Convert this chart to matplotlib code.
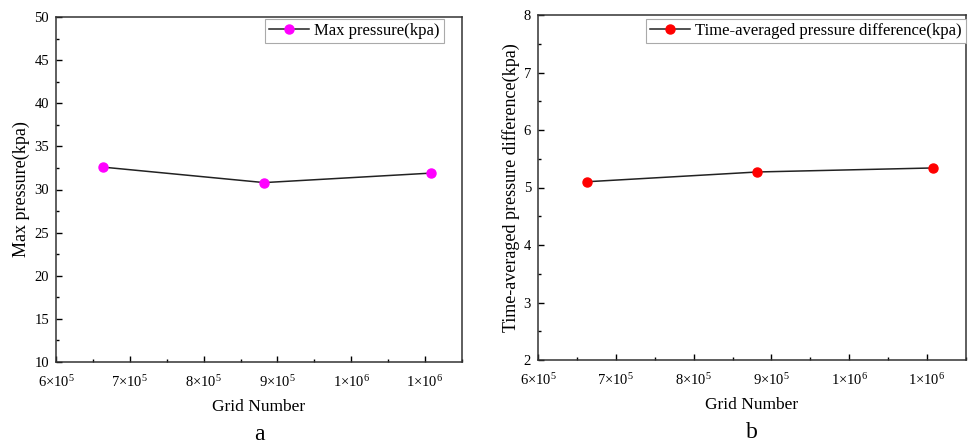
import matplotlib
matplotlib.use("Agg")
import matplotlib.pyplot as plt
import matplotlib.ticker as ticker

plt.rcParams["font.family"] = ["Liberation Serif", "DejaVu Serif"]
plt.rcParams["mathtext.fontset"] = "custom"
plt.rcParams["mathtext.rm"] = "Liberation Serif"
plt.rcParams["mathtext.it"] = "Liberation Serif"

# 网格数与结果
grid_number = [6.63e5, 8.82e5, 1.108e6]
max_pressure = [32.6, 30.8, 31.9]
avg_pressure_diff = [5.10, 5.27, 5.34]


def sci_fmt(v, pos):
    """Origin 风格: 6×10^5"""
    if v <= 0:
        return ""
    exp = len(str(int(round(v)))) - 1
    mant = int(round(v / 10 ** exp))
    return r"$%d{\times}10^{%d}$" % (mant, exp)


def draw_panel(ax, ys, color, ylabel, ylim, ystep, yminor, legend_label, tag, leg_anchor):
    ax.plot(grid_number, ys, "-", color="#222222", lw=1.1, marker="o",
            markersize=6.5, markerfacecolor=color, markeredgecolor=color,
            label=legend_label)
    ax.set_xlim(6e5, 1.15e6)
    ax.set_ylim(*ylim)
    ax.xaxis.set_major_locator(ticker.MultipleLocator(1e5))
    ax.xaxis.set_minor_locator(ticker.MultipleLocator(5e4))
    ax.xaxis.set_major_formatter(ticker.FuncFormatter(sci_fmt))
    ax.yaxis.set_major_locator(ticker.MultipleLocator(ystep))
    ax.yaxis.set_minor_locator(ticker.MultipleLocator(yminor))
    ax.tick_params(which="both", direction="in", top=False, right=False, labelsize=10.5)
    ax.tick_params(axis="x", which="major", pad=9)
    ax.tick_params(axis="y", which="major", pad=5)
    ax.tick_params(which="major", length=4, width=1)
    ax.tick_params(which="minor", length=2.5, width=1)
    for s in ax.spines.values():
        s.set_linewidth(1.1)
        s.set_color("#333333")
    ax.set_xlabel("Grid Number", fontsize=12.5, labelpad=6)
    ax.set_ylabel(ylabel, fontsize=13, labelpad=3)
    leg = ax.legend(loc="upper right", bbox_to_anchor=leg_anchor, fontsize=12,
                    fancybox=False, framealpha=1, edgecolor="#aaaaaa", borderpad=0.25,
                    handlelength=2.4, handletextpad=0.3, borderaxespad=0.0)
    leg.get_frame().set_linewidth(0.8)
    ax.text(0.5, -0.18, tag, transform=ax.transAxes, ha="center", va="top", fontsize=17)


fig = plt.figure(figsize=(9.68, 4.46), dpi=100)
ax1 = fig.add_axes([56 / 968, 1 - 362 / 446, 406 / 968, 345 / 446])
ax2 = fig.add_axes([538 / 968, 1 - 360 / 446, 428 / 968, 345 / 446])

draw_panel(ax1, max_pressure, "#ff00ff", "Max pressure(kpa)", (10, 50), 5, 2.5,
           "Max pressure(kpa)", "a", (0.956, 0.994))
draw_panel(ax2, avg_pressure_diff, "#ff0000", "Time-averaged pressure difference(kpa)",
           (2, 8), 1, 0.5, "Time-averaged pressure difference(kpa)", "b", (1.0, 0.988))

fig.savefig("out.png", dpi=100)
